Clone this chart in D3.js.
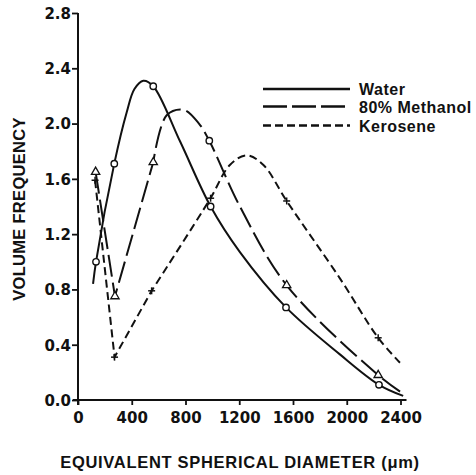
<!DOCTYPE html>
<html>
<head>
<meta charset="utf-8">
<script src="https://cdn.jsdelivr.net/npm/d3@7"></script>
<style>
  html, body { margin: 0; padding: 0; background: #fff; }
  svg { display: block; }
  .lbl { font-family: "Liberation Sans", Arial, Helvetica, sans-serif; font-weight: bold; fill: #111; }
  .tick text { font-family: "DejaVu Sans", "Liberation Sans", sans-serif; font-weight: bold; fill: #111; }
</style>
</head>
<body>
<svg id="chart" width="476" height="475"></svg>
<script>
// ---- data ----
const waterD = [112, 134, 270, 362, 420, 486, 560, 760, 987, 1205, 1548, 1949, 2240, 2420];
const waterF = [0.84, 1.0, 1.71, 2.08, 2.25, 2.31, 2.27, 1.87, 1.40, 1.07, 0.67, 0.33, 0.11, 0.03];
const waterMarkD = [134, 270, 560, 987, 1548, 2240];
const waterMarkF = [1.0, 1.71, 2.27, 1.40, 0.67, 0.11];

const methD = [131, 275, 560, 660, 784, 900, 977, 1205, 1553, 2234, 2420];
const methF = [1.65, 0.75, 1.72, 2.06, 2.10, 2.00, 1.876, 1.40, 0.83, 0.18, 0.045];
const methTriD = [131, 275, 560, 1553, 2234];
const methTriF = [1.65, 0.75, 1.72, 0.83, 0.18];
const methCircD = [977];
const methCircF = [1.876];

const keroD = [127, 272, 548, 980, 1130, 1255, 1380, 1553, 1949, 2234, 2396];
const keroF = [1.59, 0.31, 0.79, 1.45, 1.70, 1.77, 1.70, 1.44, 0.88, 0.45, 0.27];
const keroMarkD = [127, 272, 548, 987, 1553, 2234];
const keroMarkF = [1.59, 0.31, 0.79, 1.46, 1.44, 0.45];

// index of the point where each (hand-drawn) line stops being straight and turns into a smooth curve
const smoothFrom = [0, 2, 2];

const xTicks = [0, 400, 800, 1200, 1600, 2000, 2400];
const yTicks = [0.0, 0.4, 0.8, 1.2, 1.6, 2.0, 2.4, 2.8];
const legendNames = ["Water", "80% Methanol", "Kerosene"];
const xTitle = "EQUIVALENT SPHERICAL DIAMETER (\u03bcm)";
const yTitle = "VOLUME FREQUENCY";

// ---- drawing ----
const svg = d3.select("#chart");
svg.append("rect").attr("width", 476).attr("height", 475).attr("fill", "#fff");

const x = d3.scaleLinear().domain([0, 2400]).range([78, 400.5]);
const y = d3.scaleLinear().domain([0, 2.8]).range([400, 13]);

// axes
const gx = svg.append("g").attr("transform", `translate(0,${y(0)})`)
  .call(d3.axisBottom(x).tickValues(xTicks).tickFormat(d3.format("d")).tickSize(5).tickPadding(4).tickSizeOuter(0));
const gy = svg.append("g").attr("transform", `translate(${x(0)},0)`)
  .call(d3.axisLeft(y).tickValues(yTicks).tickFormat(d3.format(".1f")).tickSize(6).tickPadding(1).tickSizeOuter(0));
[gx, gy].forEach(g => {
  g.select(".domain").remove();
  g.selectAll(".tick line").attr("stroke", "#111").attr("stroke-width", 1.8);
  g.selectAll(".tick text").attr("font-size", 15);
});
gx.selectAll(".tick text").attr("dy", "0.95em");
gy.selectAll(".tick text").attr("dy", "0.36em");

// axis lines (slightly extended as in the reference)
svg.append("line").attr("x1", x(0) - 5).attr("x2", x(2400) + 6).attr("y1", y(0)).attr("y2", y(0))
  .attr("stroke", "#111").attr("stroke-width", 2);
svg.append("line").attr("x1", x(0)).attr("x2", x(0)).attr("y1", y(2.8)).attr("y2", y(0) + 5)
  .attr("stroke", "#111").attr("stroke-width", 2);

// titles
svg.append("text").attr("class", "lbl").attr("x", 240).attr("y", 468)
  .attr("text-anchor", "middle").attr("font-size", 16.5).attr("letter-spacing", 0.7).text(xTitle);
svg.append("text").attr("class", "lbl")
  .attr("transform", `translate(25,209) rotate(-90)`)
  .attr("text-anchor", "middle").attr("font-size", 16.5).attr("letter-spacing", 0.3).text(yTitle);

// series
const straight = d3.line().x(d => x(d[0])).y(d => y(d[1]));
const smooth = d3.line().x(d => x(d[0])).y(d => y(d[1])).curve(d3.curveCatmullRom.alpha(0.5));
const zip = (a, b) => a.map((v, i) => [v, b[i]]);
function pathFor(pts, k) {
  if (k <= 0) return smooth(pts);
  const a = straight(pts.slice(0, k + 1));
  const b = smooth(pts.slice(k)).replace(/^M/, "L");
  return a + b;
}

const styles = [
  { dash: null, width: 2 },
  { dash: "22,6", width: 2 },
  { dash: "8,4.5", width: 2 }
];
const series = [zip(waterD, waterF), zip(methD, methF), zip(keroD, keroF)];
series.forEach((s, i) => {
  svg.append("path").attr("d", pathFor(s, smoothFrom[i])).attr("fill", "none")
    .attr("stroke", "#111").attr("stroke-width", styles[i].width)
    .attr("stroke-linejoin", "miter")
    .attr("stroke-dasharray", styles[i].dash);
});

// markers
const circles = zip(waterMarkD, waterMarkF).concat(zip(methCircD, methCircF));
svg.append("g").selectAll("circle").data(circles).join("circle")
  .attr("cx", d => x(d[0])).attr("cy", d => y(d[1])).attr("r", 3.2)
  .attr("fill", "#fff").attr("stroke", "#111").attr("stroke-width", 1.4);

const tri = d3.symbol().type(d3.symbolTriangle).size(30);
svg.append("g").selectAll("path").data(zip(methTriD, methTriF)).join("path")
  .attr("d", tri).attr("transform", d => `translate(${x(d[0])},${y(d[1])})`)
  .attr("fill", "#fff").attr("stroke", "#111").attr("stroke-width", 1.3);

svg.append("g").selectAll("g").data(zip(keroMarkD, keroMarkF)).join("g")
  .attr("transform", d => `translate(${x(d[0])},${y(d[1])})`)
  .each(function () {
    const g = d3.select(this);
    g.append("line").attr("x1", -3.5).attr("x2", 3.5).attr("stroke", "#111").attr("stroke-width", 1.5);
    g.append("line").attr("y1", -3.5).attr("y2", 3.5).attr("stroke", "#111").attr("stroke-width", 1.5);
  });

// legend
const legY = [89, 106.5, 125.5];
const legendDash = [null, "24,5", "8,4"];
legendNames.forEach((name, i) => {
  svg.append("line").attr("x1", 263).attr("x2", 350).attr("y1", legY[i]).attr("y2", legY[i])
    .attr("stroke", "#111").attr("stroke-width", 2.4).attr("stroke-dasharray", legendDash[i]);
  svg.append("text").attr("class", "lbl").attr("x", 359).attr("y", legY[i] + 6)
    .attr("font-size", 16).attr("letter-spacing", 0.5).text(name);
});
</script>
</body>
</html>
